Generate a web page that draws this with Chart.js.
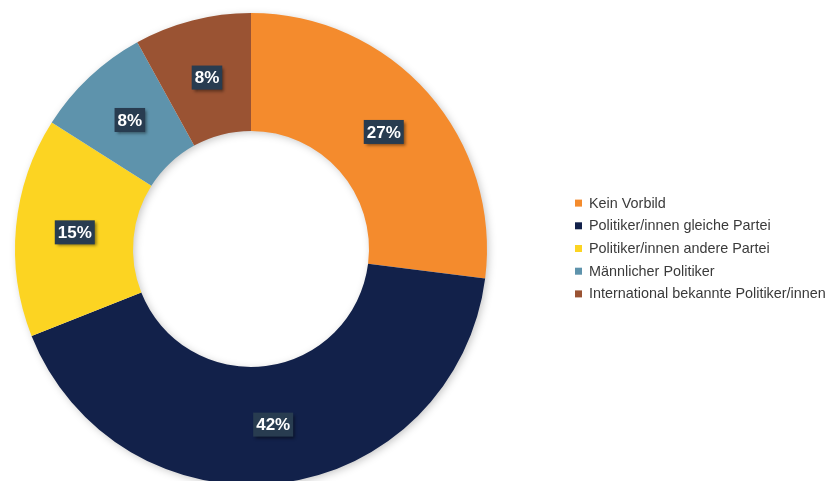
<!DOCTYPE html>
<html>
<head>
<meta charset="utf-8">
<script src="https://cdn.jsdelivr.net/npm/chart.js@4"></script>
<style>
  html, body { margin: 0; padding: 0; background: #fff; overflow: hidden; }
  #wrap { width: 828px; height: 500px; position: relative; }
</style>
</head>
<body>
<div id="wrap"><canvas id="donut"></canvas></div>
<script>
const labels = [
  'Kein Vorbild',
  'Politiker/innen gleiche Partei',
  'Politiker/innen andere Partei',
  'Männlicher Politiker',
  'International bekannte Politiker/innen'
];
const shares = [27, 42, 15, 8, 8];
const colors = ['#F48B2D', '#12214A', '#FCD422', '#5E93AC', '#9A5333'];

// Schatten unter dem Ring
const ringShadow = {
  id: 'ringShadow',
  beforeDatasetsDraw(chart) {
    const arc = chart.getDatasetMeta(0).data[0];
    if (!arc) return;
    const ctx = chart.ctx;
    ctx.save();
    ctx.shadowColor = 'rgba(0,0,0,0.25)';
    ctx.shadowBlur = 8;
    ctx.shadowOffsetX = 2;
    ctx.shadowOffsetY = 2;
    ctx.fillStyle = '#ffffff';
    ctx.beginPath();
    ctx.arc(arc.x, arc.y, arc.outerRadius - 1, 0, Math.PI * 2);
    ctx.arc(arc.x, arc.y, arc.innerRadius + 1, 0, Math.PI * 2, true);
    ctx.fill();
    ctx.restore();
  }
};

// Prozent-Etiketten in dunklen Kästchen
const valueBoxes = {
  id: 'valueBoxes',
  afterDatasetsDraw(chart) {
    const ctx = chart.ctx;
    const meta = chart.getDatasetMeta(0);
    ctx.save();
    ctx.font = 'bold 17px "Liberation Sans", Arial, sans-serif';
    ctx.textAlign = 'center';
    ctx.textBaseline = 'middle';
    meta.data.forEach((arc, i) => {
      const p = arc.tooltipPosition();
      const txt = shares[i] + '%';
      const w = ctx.measureText(txt).width + 6;
      const h = 24;
      ctx.save();
      ctx.shadowColor = 'rgba(0,0,0,0.45)';
      ctx.shadowBlur = 3;
      ctx.shadowOffsetX = 2;
      ctx.shadowOffsetY = 2;
      ctx.fillStyle = '#283C50';
      ctx.fillRect(p.x - w / 2, p.y - h / 2, w, h);
      ctx.restore();
      ctx.fillStyle = '#ffffff';
      ctx.fillText(txt, p.x, p.y + 1);
    });
    ctx.restore();
  }
};

// Legende rechts
const sideLegend = {
  id: 'sideLegend',
  afterDraw(chart) {
    const ctx = chart.ctx;
    const arc = chart.getDatasetMeta(0).data[0];
    const rowH = 22.7;
    const top = arc.y - rowH * (labels.length - 1) / 2;
    ctx.save();
    ctx.font = '14.4px "Liberation Sans", Arial, sans-serif';
    ctx.textBaseline = 'middle';
    ctx.textAlign = 'left';
    labels.forEach((lab, i) => {
      const y = top + i * rowH;
      ctx.fillStyle = colors[i];
      ctx.fillRect(575, y - 4, 7, 7);
      ctx.fillStyle = '#3a3a3a';
      ctx.fillText(lab, 589, y);
    });
    ctx.restore();
  }
};

new Chart(document.getElementById('donut'), {
  type: 'doughnut',
  data: {
    labels,
    datasets: [{
      data: shares,
      backgroundColor: colors,
      borderWidth: 0
    }]
  },
  options: {
    responsive: true,
    maintainAspectRatio: false,
    animation: false,
    cutout: '50%',
    layout: { padding: { left: 15, top: 13, right: 341, bottom: 15 } },
    plugins: {
      legend: { display: false },
      tooltip: { enabled: false }
    }
  },
  plugins: [ringShadow, valueBoxes, sideLegend]
});
</script>
</body>
</html>
